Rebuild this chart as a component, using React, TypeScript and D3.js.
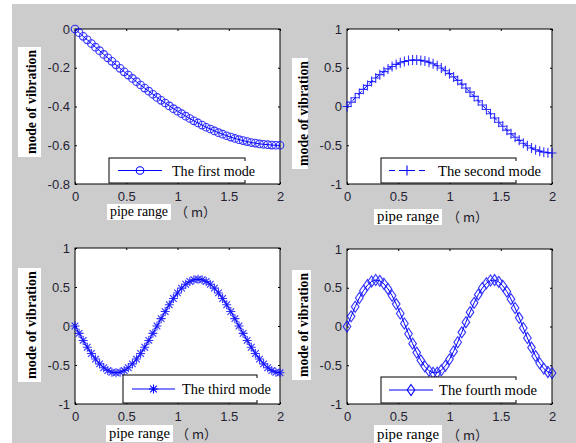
import React, { useEffect, useRef } from 'react';
import * as d3 from 'd3';

// pipe position along the range (m)
const pipeRange = [
  0, 0.04, 0.08, 0.12, 0.16, 0.2, 0.24, 0.28, 0.32, 0.36, 0.4, 0.44, 0.48, 0.52, 0.56, 0.6, 0.64,
  0.68, 0.72, 0.76, 0.8, 0.84, 0.88, 0.92, 0.96, 1, 1.04, 1.08, 1.12, 1.16, 1.2, 1.24, 1.28, 1.32,
  1.36, 1.4, 1.44, 1.48, 1.52, 1.56, 1.6, 1.64, 1.68, 1.72, 1.76, 1.8, 1.84, 1.88, 1.92, 1.96, 2
];

const firstMode = [
  0, -0.019, -0.038, -0.056, -0.075, -0.094, -0.112, -0.131, -0.149, -0.167, -0.185, -0.203, -0.221,
  -0.238, -0.255, -0.272, -0.289, -0.305, -0.321, -0.337, -0.353, -0.368, -0.382, -0.397, -0.411,
  -0.424, -0.437, -0.45, -0.462, -0.474, -0.485, -0.496, -0.507, -0.516, -0.526, -0.535, -0.543,
  -0.551, -0.558, -0.565, -0.571, -0.576, -0.581, -0.586, -0.589, -0.593, -0.595, -0.597, -0.599,
  -0.6, -0.6
];

const secondMode = [
  0, 0.056, 0.112, 0.167, 0.221, 0.272, 0.321, 0.368, 0.411, 0.45, 0.485, 0.516, 0.543, 0.565, 0.581,
  0.593, 0.599, 0.6, 0.595, 0.586, 0.571, 0.551, 0.526, 0.496, 0.462, 0.424, 0.382, 0.337, 0.289,
  0.238, 0.185, 0.131, 0.075, 0.019, -0.038, -0.094, -0.149, -0.203, -0.255, -0.305, -0.353, -0.397,
  -0.437, -0.474, -0.507, -0.535, -0.558, -0.576, -0.589, -0.597, -0.6
];

const thirdMode = [
  0, -0.094, -0.185, -0.272, -0.353, -0.424, -0.485, -0.535, -0.571, -0.593, -0.6, -0.593, -0.571,
  -0.535, -0.485, -0.424, -0.353, -0.272, -0.185, -0.094, 0, 0.094, 0.185, 0.272, 0.353, 0.424, 0.485,
  0.535, 0.571, 0.593, 0.6, 0.593, 0.571, 0.535, 0.485, 0.424, 0.353, 0.272, 0.185, 0.094, 0, -0.094,
  -0.185, -0.272, -0.353, -0.424, -0.485, -0.535, -0.571, -0.593, -0.6
];

const fourthMode = [
  0, 0.131, 0.255, 0.368, 0.462, 0.535, 0.581, 0.6, 0.589, 0.551, 0.485, 0.397, 0.289, 0.167, 0.038,
  -0.094, -0.221, -0.337, -0.437, -0.516, -0.571, -0.597, -0.595, -0.565, -0.507, -0.424, -0.321,
  -0.203, -0.075, 0.056, 0.185, 0.305, 0.411, 0.496, 0.558, 0.593, 0.599, 0.576, 0.526, 0.45, 0.353,
  0.238, 0.112, -0.019, -0.149, -0.272, -0.382, -0.474, -0.543, -0.586, -0.6
];

const modeNames = ['The first mode', 'The second mode', 'The third mode', 'The fourth mode'];
const xTicks = [0, 0.5, 1, 1.5, 2];
const yTicksFirst = [0, -0.2, -0.4, -0.6, -0.8];
const yTicksOther = [1, 0.5, 0, -0.5, -1];

const BLUE = '#0000ff';

// panel layout (pixels)
const panels = [
  {
    data: firstMode, yDomain: [-0.8, 0], yTicks: yTicksFirst, marker: 'circle', dash: null,
    box: [75, 29, 280, 184], legend: [109, 158, 245, 183], legLine: [118, 162], legText: [172, 83],
    yLab: [18, 47, 23, 110, 31], xLab: [107, 204, 64, 16, 175]
  },
  {
    data: secondMode, yDomain: [-1, 1], yTicks: yTicksOther, marker: 'plus', dash: '5,3',
    box: [347, 29, 552, 184], legend: [381, 158, 516, 183], legLine: [389, 425], legText: [438, 103],
    yLab: [292, 58, 16, 111, 303], xLab: [374, 209, 68, 16, 447]
  },
  {
    data: thirdMode, yDomain: [-1, 1], yTicks: yTicksOther, marker: 'star', dash: null,
    box: [75, 248, 280, 404], legend: [123, 375, 257, 403], legLine: [132, 175], legText: [182, 89],
    yLab: [18, 268, 23, 114, 31], xLab: [106, 425, 67, 17, 176]
  },
  {
    data: fourthMode, yDomain: [-1, 1], yTicks: yTicksOther, marker: 'diamond', dash: null,
    box: [347, 249, 552, 404], legend: [381, 377, 516, 403], legLine: [389, 433], legText: [439, 98],
    yLab: [292, 270, 19, 110, 303], xLab: [374, 425, 68, 18, 447]
  }
];

function drawMarker(g: any, kind: string, cx: number, cy: number) {
  const sw = 1.1;
  if (kind === 'circle') {
    g.append('circle').attr('cx', cx).attr('cy', cy).attr('r', 3.8)
      .attr('fill', 'none').attr('stroke', BLUE).attr('stroke-width', sw);
  } else if (kind === 'plus') {
    g.append('path').attr('d', `M${cx - 4.5},${cy}H${cx + 4.5}M${cx},${cy - 5}V${cy + 5}`)
      .attr('stroke', BLUE).attr('stroke-width', sw).attr('fill', 'none');
  } else if (kind === 'star') {
    g.append('path')
      .attr('d', `M${cx - 4.5},${cy}H${cx + 4.5}M${cx},${cy - 4.5}V${cy + 4.5}M${cx - 3.3},${cy - 3.3}L${cx + 3.3},${cy + 3.3}M${cx - 3.3},${cy + 3.3}L${cx + 3.3},${cy - 3.3}`)
      .attr('stroke', BLUE).attr('stroke-width', sw).attr('fill', 'none');
  } else {
    g.append('path').attr('d', `M${cx},${cy - 5.5}L${cx + 3.8},${cy}L${cx},${cy + 5.5}L${cx - 3.8},${cy}Z`)
      .attr('stroke', BLUE).attr('stroke-width', sw).attr('fill', 'none');
  }
}

export default function App() {
  const ref = useRef<SVGSVGElement>(null);

  useEffect(() => {
    const svg = d3.select(ref.current);
    svg.selectAll('*').remove();

    svg.append('rect').attr('width', 576).attr('height', 443).attr('fill', '#ffffff');
    svg.append('rect').attr('x', 12).attr('y', 4).attr('width', 564).attr('height', 439).attr('fill', '#cccccc');

    panels.forEach((p, k) => {
      const [l, t, r, b] = p.box;
      const x = d3.scaleLinear().domain([0, 2]).range([l, r]);
      const y = d3.scaleLinear().domain(p.yDomain).range([b, t]);
      const g = svg.append('g');

      g.append('rect').attr('x', l).attr('y', t).attr('width', r - l).attr('height', b - t).attr('fill', '#ffffff');

      // axes, ticks pointing inward like matlab
      const fmt = (d: any) => String(d);
      const bottom = g.append('g').attr('transform', `translate(0,${b})`)
        .call(d3.axisBottom(x).tickValues(xTicks).tickSize(-2).tickPadding(8).tickFormat(fmt));
      const left = g.append('g').attr('transform', `translate(${l},0)`)
        .call(d3.axisLeft(y).tickValues(p.yTicks).tickSize(-2).tickPadding(5).tickFormat(fmt));
      g.append('g').attr('transform', `translate(0,${t})`)
        .call(d3.axisTop(x).tickValues(xTicks).tickSize(-2).tickFormat(() => ''));
      g.append('g').attr('transform', `translate(${r},0)`)
        .call(d3.axisRight(y).tickValues(p.yTicks).tickSize(-2).tickFormat(() => ''));
      g.selectAll('.domain').remove();
      g.selectAll('.tick line').attr('stroke', '#000');
      [bottom, left].forEach(a => a.selectAll('text')
        .attr('font-family', 'Liberation Sans, Arial, sans-serif').attr('font-size', 13).attr('fill', '#261f33'));

      g.append('rect').attr('x', l).attr('y', t).attr('width', r - l).attr('height', b - t)
        .attr('fill', 'none').attr('stroke', '#000').attr('stroke-width', 1);

      // curve + markers
      const line = d3.line<number>().x((d, i) => x(pipeRange[i])).y(d => y(d));
      g.append('path').datum(p.data).attr('d', line).attr('fill', 'none')
        .attr('stroke', BLUE).attr('stroke-width', 1).attr('stroke-dasharray', p.dash);
      const mk = g.append('g').attr('opacity', 0.8);
      p.data.forEach((d, i) => drawMarker(mk, p.marker, x(pipeRange[i]), y(d)));

      // legend
      const [lx1, ly1, lx2, ly2] = p.legend;
      const lcy = (ly1 + ly2) / 2;
      g.append('rect').attr('x', lx1).attr('y', ly1).attr('width', lx2 - lx1).attr('height', ly2 - ly1)
        .attr('fill', '#ffffff').attr('stroke', '#000').attr('stroke-width', 1);
      g.append('line').attr('x1', p.legLine[0]).attr('x2', p.legLine[1]).attr('y1', lcy).attr('y2', lcy)
        .attr('stroke', BLUE).attr('stroke-width', 1).attr('stroke-dasharray', p.dash ? '6,4' : null);
      drawMarker(g, p.marker, (p.legLine[0] + p.legLine[1]) / 2, lcy);
      g.append('rect').attr('x', p.legText[0] - 2).attr('y', ly1 + 3).attr('width', p.legText[1] + 4)
        .attr('height', ly2 - ly1 - 6).attr('fill', '#ffffff');
      g.append('text').attr('x', p.legText[0]).attr('y', lcy + 5).text(modeNames[k])
        .attr('font-family', 'Liberation Serif, Times New Roman, serif').attr('font-size', 14)
        .attr('textLength', p.legText[1]).attr('lengthAdjust', 'spacingAndGlyphs').attr('fill', '#000');

      // y label
      const [yx, yy, yw, yh, ycx] = p.yLab;
      g.append('rect').attr('x', yx).attr('y', yy).attr('width', yw).attr('height', yh).attr('fill', '#ffffff');
      g.append('text').attr('transform', `translate(${ycx + 5},${yy + yh / 2}) rotate(-90)`)
        .attr('text-anchor', 'middle').text('mode of vibration')
        .attr('font-family', 'Liberation Serif, Times New Roman, serif').attr('font-size', 14)
        .attr('font-weight', 'bold').attr('textLength', yh - 6).attr('lengthAdjust', 'spacingAndGlyphs')
        .attr('fill', '#000');

      // x label
      const [xx, xy, xw, xh, mx] = p.xLab;
      g.append('rect').attr('x', xx).attr('y', xy).attr('width', xw).attr('height', xh).attr('fill', '#ffffff');
      g.append('text').attr('x', xx + xw / 2).attr('y', xy + xh - 4).attr('text-anchor', 'middle')
        .text('pipe range').attr('font-family', 'Liberation Serif, Times New Roman, serif')
        .attr('font-size', 15).attr('textLength', xw - 6)
        .attr('lengthAdjust', 'spacingAndGlyphs').attr('fill', '#000');
      g.append('text').attr('x', mx).attr('y', xy + xh - 3).text('（ m）')
        .attr('font-family', 'Noto Sans CJK SC, sans-serif').attr('font-size', 13).attr('fill', '#1c1a2a');
    });
  }, []);

  return (
    <svg ref={ref} width={576} height={443}
      style={{ position: 'absolute', left: 0, top: 0, display: 'block' }} />
  );
}
